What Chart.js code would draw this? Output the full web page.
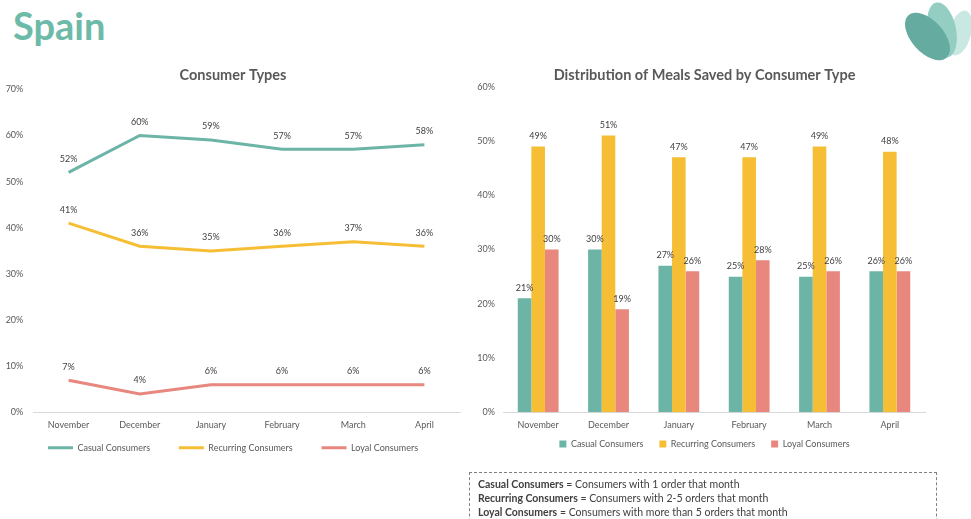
<!DOCTYPE html>
<html>
<head>
<meta charset="utf-8">
<script src="https://cdn.jsdelivr.net/npm/chart.js@4/dist/chart.umd.min.js"></script>
<style>
  html, body { margin: 0; padding: 0; background: #fff; }
  body { width: 971px; height: 519px; position: relative; overflow: hidden; font-family: Lato, sans-serif; }
  #country { position: absolute; left: 13px; top: 6px; font: bold 38px/1 Lato, sans-serif; color: #6dbaa8; }
  #logo { position: absolute; left: 895px; top: 0; }
  .chart { position: absolute; top: 60px; height: 410px; }
  #typesWrap { left: 0; width: 472px; }
  #mealsWrap { left: 470px; width: 468px; }
  #notes {
    position: absolute; left: 469px; top: 472px; width: 468px; height: 60px;
    border: 1px dashed #808080; box-sizing: border-box;
    padding: 4px 0 0 8px; font-size: 10.5px; line-height: 14px; color: #404040;
  }
  #notes b { font-weight: bold; }
</style>
</head>
<body>
<div id="country">Spain</div>

<svg id="logo" width="76" height="66" viewBox="0 0 76 66">
  <ellipse cx="65" cy="33" rx="11" ry="23" fill="#c8e8e1" transform="rotate(15 65 33)"/>
  <ellipse cx="47" cy="30" rx="14" ry="28" fill="#94cec2" transform="rotate(-12 47 30)"/>
  <ellipse cx="32.5" cy="36.5" rx="16" ry="28.5" fill="#66ab9f" transform="rotate(-42 32.5 36.5)"/>
</svg>

<div class="chart" id="typesWrap"><canvas id="typesChart"></canvas></div>
<div class="chart" id="mealsWrap"><canvas id="mealsChart"></canvas></div>

<div id="notes">
  <div><b>Casual Consumers</b> = Consumers with 1 order that month</div>
  <div><b>Recurring Consumers</b> = Consumers with 2-5 orders that month</div>
  <div><b>Loyal Consumers</b> = Consumers with more than 5 orders that month</div>
</div>

<script>
'use strict';

// Months shown on both charts
const months = ['November', 'December', 'January', 'February', 'March', 'April'];
const seriesNames = ['Casual Consumers', 'Recurring Consumers', 'Loyal Consumers'];

// Share of consumers by type (%)
const casualShare = [52, 60, 59, 57, 57, 58];
const recurringShare = [41, 36, 35, 36, 37, 36];
const loyalShare = [7, 4, 6, 6, 6, 6];

// Share of meals saved by consumer type (%)
const casualMeals = [21, 30, 27, 25, 25, 26];
const recurringMeals = [49, 51, 47, 47, 49, 48];
const loyalMeals = [30, 19, 26, 28, 26, 26];

// Axis ticks (%)
const typesTicks = [0, 10, 20, 30, 40, 50, 60, 70];
const mealsTicks = [0, 10, 20, 30, 40, 50, 60];

const colors = ['#6cb5a6', '#f6be34', '#e8877e'];
const textGrey = '#595959';

Chart.defaults.font.family = 'Lato, sans-serif';
Chart.defaults.font.size = 9;
Chart.defaults.color = textGrey;

// Writes the rounded value above every point / bar
const valueLabels = {
  id: 'valueLabels',
  afterDatasetsDraw(chart, args, opts) {
    const ctx = chart.ctx;
    ctx.save();
    ctx.font = '9px Lato, sans-serif';
    ctx.fillStyle = '#404040';
    ctx.textAlign = 'center';
    ctx.textBaseline = 'middle';
    chart.data.datasets.forEach((ds, i) => {
      chart.getDatasetMeta(i).data.forEach((el, j) => {
        ctx.fillText(Math.round(ds.data[j]) + '%', el.x, el.y - opts.offset);
      });
    });
    ctx.restore();
  }
};

// Percent axis with fixed ticks
function percentAxis(ticks, width, pad) {
  return {
    min: ticks[0],
    max: ticks[ticks.length - 1],
    afterBuildTicks: scale => { scale.ticks = ticks.map(v => ({ value: v })); },
    afterFit: scale => { scale.width = width; },
    grid: { display: false, drawTicks: false },
    border: { display: false },
    ticks: { padding: pad, color: textGrey, callback: v => v + '%' }
  };
}

// Empty right-hand axis, only used as a spacer
function spacerAxis(width) {
  return {
    position: 'right',
    afterFit: scale => { scale.width = width; },
    grid: { display: false, drawTicks: false },
    border: { display: false },
    ticks: { display: false }
  };
}

function monthAxis(height, pad) {
  return {
    offset: true,
    afterFit: scale => { scale.height = height; },
    grid: { display: false, drawTicks: false },
    border: { display: true, color: '#d9d9d9', width: 1 },
    ticks: { padding: pad, color: textGrey }
  };
}

function titleOpts(text, top, bottom) {
  return {
    display: true,
    text: text,
    color: textGrey,
    font: { size: 14.5, weight: 'bold' },
    padding: { top: top, bottom: bottom }
  };
}

// Legend entries get some trailing space so the items sit further apart
function spacedLabels(spaces, noBorder) {
  return chart => {
    const items = Chart.defaults.plugins.legend.labels.generateLabels(chart);
    return items.map((item, i) => ({
      ...item,
      text: i < items.length - 1 ? item.text + ' '.repeat(spaces) : item.text,
      lineWidth: noBorder ? 0 : item.lineWidth
    }));
  };
}

// Line chart: consumer types
const typesData = [casualShare, recurringShare, loyalShare];
new Chart(document.getElementById('typesChart'), {
  type: 'line',
  data: {
    labels: months,
    datasets: typesData.map((values, i) => ({
      label: seriesNames[i],
      data: values,
      borderColor: colors[i],
      backgroundColor: colors[i],
      borderWidth: 3,
      pointRadius: 0,
      tension: 0
    }))
  },
  options: {
    responsive: true,
    maintainAspectRatio: false,
    animation: false,
    layout: { padding: { left: 6, right: 12, top: 0, bottom: 7.8 } },
    scales: {
      x: monthAxis(18, 7.1),
      y: percentAxis(typesTicks, 27, 9.7)
    },
    plugins: {
      title: titleOpts('Consumer Types', 6.3, 5.6),
      legend: {
        position: 'bottom',
        labels: {
          boxWidth: 25,
          boxHeight: 3,
          padding: 12.7,
          color: textGrey,
          generateLabels: spacedLabels(7, true)
        }
      },
      tooltip: { enabled: false },
      valueLabels: { offset: 13.5 }
    }
  },
  plugins: [valueLabels]
});

// Bar chart: meals saved by consumer type
const mealsData = [casualMeals, recurringMeals, loyalMeals];
new Chart(document.getElementById('mealsChart'), {
  type: 'bar',
  data: {
    labels: months,
    datasets: mealsData.map((values, i) => ({
      label: seriesNames[i],
      data: values,
      backgroundColor: colors[i],
      borderWidth: 0,
      barPercentage: 1,
      categoryPercentage: 0.58
    }))
  },
  options: {
    responsive: true,
    maintainAspectRatio: false,
    animation: false,
    layout: { padding: { left: 6, right: 5, top: 0, bottom: 11.5 } },
    scales: {
      x: monthAxis(18.2, 7.3),
      y: percentAxis(mealsTicks, 27, 8),
      spacer: spacerAxis(8)
    },
    plugins: {
      title: titleOpts('Distribution of Meals Saved by Consumer Type', 6.3, 3.0),
      legend: {
        position: 'bottom',
        labels: {
          boxWidth: 7,
          boxHeight: 7,
          padding: 9,
          color: textGrey,
          generateLabels: spacedLabels(3, false)
        }
      },
      tooltip: { enabled: false },
      valueLabels: { offset: 10.5 }
    }
  },
  plugins: [valueLabels]
});
</script>
</body>
</html>
